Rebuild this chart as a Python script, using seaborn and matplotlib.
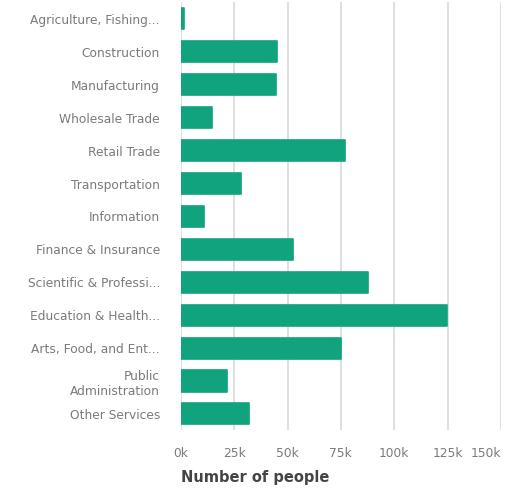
import pandas as pd
import seaborn as sns
import matplotlib.pyplot as plt
from matplotlib.ticker import FuncFormatter

# Industries and their headcount
industries = ['Agriculture, Fishing...', 'Construction', 'Manufacturing', 'Wholesale Trade',
              'Retail Trade', 'Transportation', 'Information', 'Finance & Insurance',
              'Scientific & Professi...', 'Education & Health...', 'Arts, Food, and Ent...',
              'Public\nAdministration', 'Other Services']
people = [1500, 45000, 44500, 14500, 77000, 28000, 11000, 52500, 87500, 124800, 75000, 21500, 32000]
xticks = [0, 25000, 50000, 75000, 100000, 125000, 150000]

df = pd.DataFrame({'industry': industries, 'people': people})

sns.set_style('white')
plt.rcParams['font.family'] = ['DejaVu Sans']

fig = plt.figure(figsize=(5.05, 4.88), dpi=100)
ax = fig.add_axes([0.358, 0.118, 0.634, 0.877])

green = '#10a37e'
sns.barplot(data=df, x='people', y='industry', color=green, width=0.64,
            saturation=1, ax=ax, zorder=3)
# slightly rounded bar corners
for p in ax.patches:
    p.set_edgecolor(green)
    p.set_linewidth(1.2)
    p.set_joinstyle('round')

ax.set_xlim(0, 150000)
ax.set_xticks(xticks)
ax.xaxis.set_major_formatter(FuncFormatter(lambda v, pos: f'{int(v/1000)}k'))
ax.grid(axis='x', color='#dcdcdc', linewidth=1.3, zorder=0)
ax.set_axisbelow(True)
for s in ax.spines.values():
    s.set_visible(False)

ax.tick_params(axis='both', length=0, labelsize=8.8, labelcolor='#7a7a7a')
ax.tick_params(axis='x', pad=12)
ax.tick_params(axis='y', pad=15)
# last tick label is pulled inside the figure
ax.get_xticklabels()[-1].set_horizontalalignment('right')
ax.set_ylabel('')
ax.set_xlabel('Number of people', fontsize=10.5, fontweight='bold', color='#444444',
              loc='left', labelpad=7)

fig.savefig('out.png', dpi=100)
